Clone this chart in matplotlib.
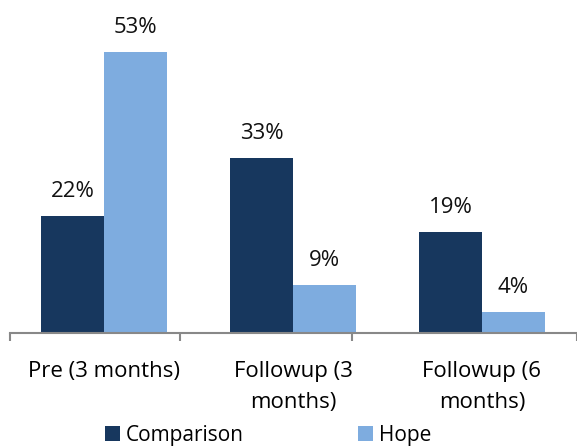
import matplotlib.pyplot as plt
import numpy as np

plt.rcParams['font.family'] = ['Open Sans', 'DejaVu Sans']

categories = ["Pre (3 months)", "Followup (3\nmonths)", "Followup (6\nmonths)"]
comparison = [22, 33, 19]
hope = [53, 9, 4]
series_names = ["Comparison", "Hope"]

dark = "#17375E"
light = "#7EACDF"

fig = plt.figure(figsize=(5.77, 4.46), dpi=100)
ax = fig.add_axes([9.5 / 577, 113 / 446, 567 / 577, 333 / 446])

x = np.arange(len(categories))
w = 0.333
b1 = ax.bar(x - w / 2, comparison, w, color=dark, label=series_names[0])
b2 = ax.bar(x + w / 2, hope, w, color=light, label=series_names[1])

for bars, vals in [(b1, comparison), (b2, hope)]:
    for bar, v in zip(bars, vals):
        ax.text(bar.get_x() + bar.get_width() / 2, v + 4.6, f"{v}%",
                ha="center", va="center", fontsize=16, color="#111111")

ax.set_xlim(-0.5, 2.5)
ax.set_ylim(0, 62.8)
ax.set_yticks([])
for s in ["top", "right", "left"]:
    ax.spines[s].set_visible(False)
ax.spines["bottom"].set_color("#888888")
ax.spines["bottom"].set_linewidth(1.5)

ax.set_xticks(x)
ax.set_xticklabels(categories, fontsize=16, linespacing=1.62, va="top")
ax.tick_params(axis="x", length=0, pad=20)
ax.set_xticks([-0.5, 0.4, 1.31, 2.5], minor=True)
ax.tick_params(axis="x", which="minor", length=6, width=1.5, color="#888888")

fig.legend(handles=[b1, b2], labels=series_names, loc="center", ncol=2,
           bbox_to_anchor=(0.465, 11 / 446), frameon=False, fontsize=15,
           handlelength=0.7, handleheight=0.7, handletextpad=0.3,
           columnspacing=5.5, borderaxespad=0)

fig.savefig("out.png", dpi=100)
